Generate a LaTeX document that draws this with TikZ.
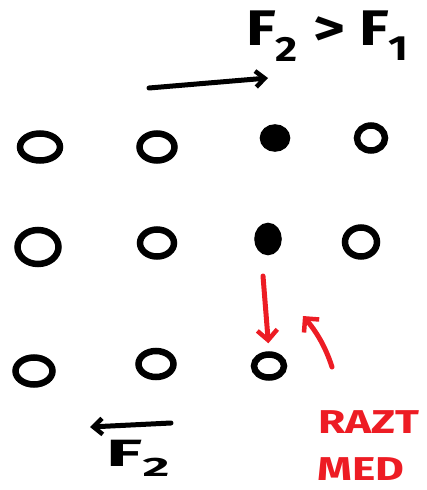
\documentclass[tikz,border=0pt]{standalone}
\usepackage{fontspec}
\setmainfont{Fira Sans}
\usetikzlibrary{arrows.meta,shapes.geometric}
\definecolor{penred}{RGB}{237,28,36}
\tikzset{
  dot/.style={draw=black,line width=6.5pt,ellipse,inner sep=0pt},
  fulldot/.style={dot,fill=black},
  sz/.style 2 args={minimum width=#1pt,minimum height=#2pt},
  blackarrow/.style={line width=5pt,line cap=round,-{Straight Barb[length=9pt,width=16pt,line width=4.5pt]}},
  redarrow/.style={draw=penred,line width=5pt,line cap=round,-{Straight Barb[length=10pt,width=20pt,line width=4.5pt]}},
  handtext/.style={font=\fontsize{50}{50}\selectfont\bfseries,inner sep=0pt,anchor=west,xscale=1.22},
  lowtext/.style={handtext,font=\fontsize{38}{38}\selectfont\bfseries,xscale=1.6},
  redtext/.style={handtext,text=penred,font=\fontsize{33}{33}\selectfont\bfseries,xscale=1.1}
}
\begin{document}
\begin{tikzpicture}[x=1pt,y=-1pt]
\useasboundingbox (0,0) rectangle (427,490);
\clip (0,0) rectangle (427,490);
% row 1
\node[dot,sz={40}{27}] (a1) at (40,147) {};
\node[dot,sz={35}{27}] (a2) at (157,147) {};
\node[fulldot,sz={24}{21}] (a3) at (275,138) {};
\node[dot,sz={28}{25}] (a4) at (371,138) {};
% row 2
\node[dot,sz={41}{34}] (b1) at (38,247) {};
\node[dot,sz={34}{27}] (b2) at (157,243) {};
\node[fulldot,sz={21}{26}] (b3) at (268,239) {};
\node[dot,sz={32}{29}] (b4) at (361,242) {};
% row 3
\node[dot,sz={37}{27}] (c1) at (34,371) {};
\node[dot,sz={35}{26}] (c2) at (156,364) {};
\node[dot,sz={30}{23}] (c3) at (269,366) {};
% top arrow and label
\coordinate (t0) at (149,88);
\coordinate (t1) at (268,78);
\draw[blackarrow] (t0) -- (t1);
\node[handtext] (lab1) at (246,36) {F$_{\mathbf 2}$ > F$_{\mathbf 1}$};
% bottom arrow and label
\coordinate (u0) at (171,423);
\coordinate (u1) at (90,427);
\draw[blackarrow] (u0) -- (u1);
\node[lowtext] (lab2) at (106,458) {F$_{\mathbf 2}$};
% red arrows
\coordinate (r0) at (263,276);
\draw[redarrow,shorten >=8pt] (r0) -- (c3.north);
\coordinate (s0) at (332,367);
\coordinate (s1) at (303,316);
\draw[redarrow] (s0) .. controls (325,345) and (315,330) .. (s1);
% red text
\node[redtext] (raz) at (318,422) {RAZT};
\node[redtext] (med) at (317,469) {MED};
\end{tikzpicture}
\end{document}
